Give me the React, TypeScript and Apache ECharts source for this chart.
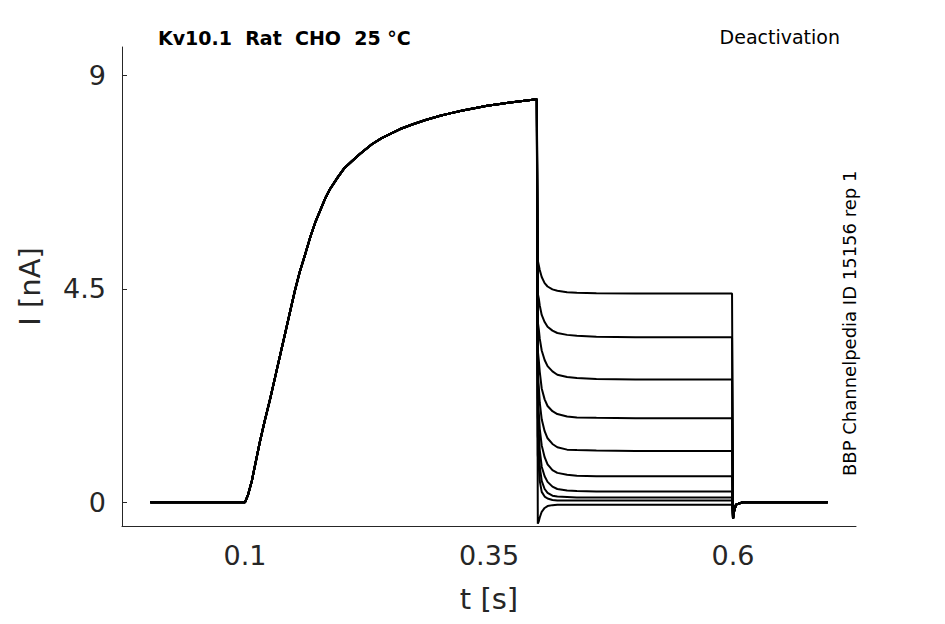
import React, { useEffect, useRef } from 'react';
import * as echarts from 'echarts';

// activation phase (shared by all sweeps)
const actT = [0.003, 0.05, 0.1, 0.103, 0.107, 0.111, 0.115, 0.12, 0.126, 0.131, 0.136, 0.141, 0.146, 0.151, 0.156, 0.162, 0.167, 0.172, 0.177, 0.182, 0.187, 0.195, 0.202, 0.21, 0.218, 0.23, 0.24, 0.25, 0.259, 0.272, 0.285, 0.3, 0.31, 0.323, 0.335, 0.348, 0.361, 0.38, 0.399];
const actI = [0, 0, 0, 0.15, 0.45, 0.85, 1.25, 1.7, 2.2, 2.65, 3.1, 3.55, 4.0, 4.45, 4.85, 5.25, 5.6, 5.9, 6.15, 6.4, 6.6, 6.85, 7.05, 7.2, 7.35, 7.55, 7.68, 7.78, 7.87, 7.97, 8.06, 8.15, 8.2, 8.26, 8.31, 8.36, 8.4, 8.45, 8.5];

// deactivation tails, one per sweep
const tailT = [0.4, 0.401, 0.402, 0.404, 0.407, 0.41, 0.415, 0.42, 0.43, 0.44, 0.46, 0.5, 0.55, 0.599];
const tails = [
  [5.1, 5.0, 4.9, 4.75, 4.62, 4.55, 4.49, 4.46, 4.43, 4.42, 4.41, 4.4, 4.4, 4.4],
  [4.4, 4.3, 4.15, 3.95, 3.8, 3.7, 3.62, 3.57, 3.53, 3.51, 3.49, 3.48, 3.48, 3.48],
  [3.8, 3.65, 3.45, 3.2, 3.0, 2.87, 2.76, 2.69, 2.64, 2.62, 2.6, 2.59, 2.59, 2.59],
  [3.2, 3.0, 2.75, 2.4, 2.17, 2.03, 1.92, 1.86, 1.81, 1.79, 1.78, 1.77, 1.77, 1.77],
  [2.7, 2.45, 2.1, 1.75, 1.5, 1.35, 1.23, 1.16, 1.11, 1.1, 1.09, 1.08, 1.08, 1.08],
  [2.2, 1.9, 1.55, 1.2, 0.95, 0.8, 0.68, 0.62, 0.58, 0.56, 0.55, 0.55, 0.55, 0.55],
  [1.8, 1.5, 1.1, 0.75, 0.55, 0.43, 0.33, 0.28, 0.25, 0.24, 0.23, 0.23, 0.23, 0.23],
  [1.4, 1.1, 0.75, 0.45, 0.28, 0.2, 0.14, 0.12, 0.11, 0.1, 0.1, 0.1, 0.1, 0.1],
  [1.0, 0.75, 0.45, 0.22, 0.12, 0.08, 0.05, 0.04, 0.04, 0.04, 0.04, 0.04, 0.04, 0.04],
  [-0.45, -0.4, -0.32, -0.2, -0.12, -0.08, -0.06, -0.05, -0.05, -0.05, -0.05, -0.05, -0.05, -0.05],
];

// return to holding
const postT = [0.6, 0.601, 0.603, 0.61, 0.65, 0.697];
const postI = [-0.35, -0.2, -0.05, 0, 0, 0];

const xTicks = [0.1, 0.35, 0.6];
const yTicks = [0, 4.5, 9];

export default function App() {
  const ref = useRef<HTMLDivElement>(null);
  useEffect(() => {
    if (!ref.current) return;
    const chart = echarts.init(ref.current, null, { renderer: 'svg' });
    const series = tails.map((tail) => ({
      type: 'line',
      showSymbol: false,
      lineStyle: { color: '#000', width: 2 },
      data: [
        ...actT.map((t, i) => [t, actI[i]]),
        ...tailT.map((t, i) => [t, tail[i]]),
        ...postT.map((t, i) => [t, postI[i]]),
      ],
    }));
    chart.setOption({
      animation: false,
      grid: { left: 122, right: 89, top: 47, bottom: 98 },
      xAxis: {
        type: 'value', min: -0.026, max: 0.726,
        name: 't [s]', nameLocation: 'middle', nameGap: 58,
        nameTextStyle: { fontSize: 29, color: '#262626', fontFamily: 'DejaVu Sans' },
        splitLine: { show: false },
        axisLine: { onZero: false, lineStyle: { color: '#262626' } },
        axisTick: { show: false },
        axisLabel: {
          fontSize: 27, color: '#262626', fontFamily: 'DejaVu Sans', margin: 16,
          customValues: xTicks, formatter: (v: number) => String(v),
        },
      },
      yAxis: {
        type: 'value', min: -0.5, max: 9.6,
        name: 'I [nA]', nameLocation: 'middle', nameGap: 78,
        nameTextStyle: { fontSize: 29, color: '#262626', fontFamily: 'DejaVu Sans' },
        splitLine: { show: false },
        axisLine: { show: true, onZero: false, lineStyle: { color: '#262626' } },
        axisTick: { show: true, inside: true, customValues: yTicks, lineStyle: { color: '#262626' } },
        axisLabel: {
          fontSize: 27, color: '#262626', fontFamily: 'DejaVu Sans', margin: 16,
          customValues: yTicks, formatter: (v: number) => String(v),
        },
      },
      graphic: [
        { type: 'text', left: 158, top: 28, style: { text: 'Kv10.1  Rat  CHO  25 °C', font: 'bold 19px DejaVu Sans', fill: '#000' } },
        { type: 'text', right: 105, top: 27, style: { text: 'Deactivation', font: '19px DejaVu Sans', fill: '#000' } },
        { type: 'text', x: 840, y: 476, rotation: Math.PI / 2, style: { text: 'BBP Channelpedia ID 15156 rep 1', font: '18px DejaVu Sans', fill: '#000' } },
      ],
      series,
    });
    return () => chart.dispose();
  }, []);
  return <div ref={ref} style={{ position: 'fixed', left: 0, top: 0, width: 945, height: 624, background: '#fff' }} />;
}
